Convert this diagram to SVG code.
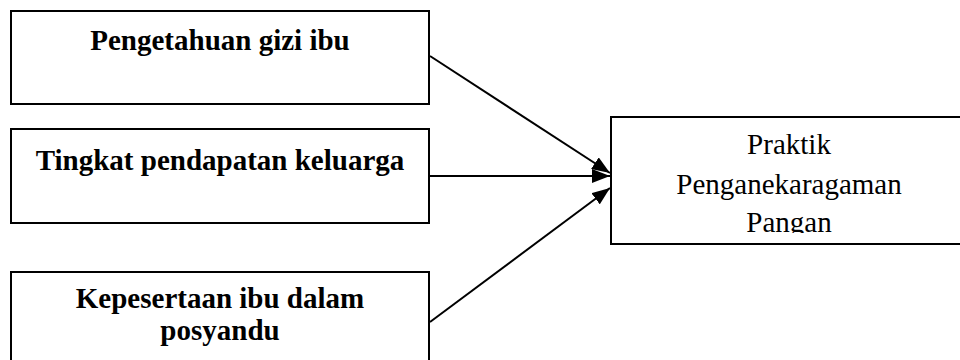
<svg xmlns="http://www.w3.org/2000/svg" width="960" height="360" viewBox="0 0 960 360">
<style>
.box{fill:#fff;stroke:#000;stroke-width:2}
.lb{font-family:"Liberation Serif","Times New Roman",serif;font-size:29px;font-weight:bold;fill:#000;text-anchor:middle}
.lr{font-family:"Liberation Serif","Times New Roman",serif;font-size:29px;fill:#000;text-anchor:middle}
.edge{stroke:#000;stroke-width:2;fill:none}
</style>
<defs>
<marker id="arr" markerUnits="userSpaceOnUse" markerWidth="18" markerHeight="14" refX="18" refY="7" orient="auto">
<path d="M0,0 L18,7 L0,14 z" fill="#000"/>
</marker>
<clipPath id="clipR"><rect x="612" y="118" width="360" height="115"/></clipPath>
</defs>
<rect width="960" height="360" fill="#fff"/>
<g id="n1">
<rect class="box" x="11" y="11" width="418" height="93"/>
<text class="lb" x="220" y="50">Pengetahuan gizi ibu</text>
</g>
<g id="n2">
<rect class="box" x="11" y="129" width="418" height="94"/>
<text class="lb" x="220" y="170">Tingkat pendapatan keluarga</text>
</g>
<g id="n3">
<rect class="box" x="11" y="272" width="418" height="100"/>
<text class="lb" x="220" y="308">Kepesertaan ibu dalam</text>
<text class="lb" x="220" y="340">posyandu</text>
</g>
<g id="n4">
<rect class="box" x="611" y="117" width="356" height="127"/>
<g clip-path="url(#clipR)">
<text class="lr" x="789" y="154">Praktik</text>
<text class="lr" x="789" y="194">Penganekaragaman</text>
<text class="lr" x="789" y="232">Pangan</text>
</g>
</g>
<g id="edges">
<line class="edge" x1="430" y1="56" x2="610" y2="173" marker-end="url(#arr)"/>
<line class="edge" x1="430" y1="176" x2="610" y2="176" marker-end="url(#arr)"/>
<line class="edge" x1="430" y1="322" x2="610" y2="188" marker-end="url(#arr)"/>
</g>
</svg>
